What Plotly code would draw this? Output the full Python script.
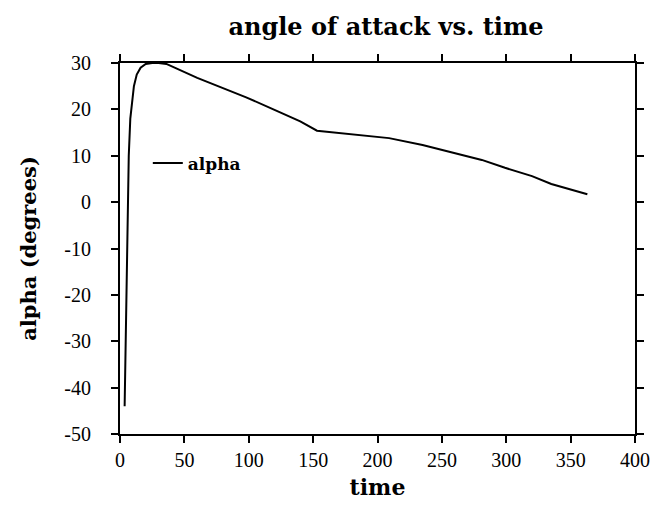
import plotly.graph_objects as go

time = [3.6, 4.4, 5.2, 6.0, 6.8, 8.0, 9.2, 10.8, 13, 16, 20, 25, 30, 36,
        60, 80, 98, 120, 140, 153, 175, 191, 209, 235, 265, 281, 299, 320, 335, 348, 363]
alpha = [-44, -30, -15, -2, 10, 18, 21.5, 25, 27.5, 29, 29.8, 30, 30, 29.8,
         26.8, 24.6, 22.6, 19.9, 17.4, 15.4, 14.8, 14.3, 13.8, 12.3, 10.3, 9.1, 7.4, 5.6, 3.9, 2.8, 1.7]

x_ticks = [0, 50, 100, 150, 200, 250, 300, 350, 400]
y_ticks = [-50, -40, -30, -20, -10, 0, 10, 20, 30]
y_ticktext = [str(v) for v in y_ticks]

serif = "Liberation Serif"
bold_serif = "DejaVu Serif"

fig = go.Figure()
fig.add_trace(go.Scatter(
    x=time, y=alpha, mode="lines", name="alpha",
    line=dict(color="black", width=2),
))

axis_common = dict(
    showline=True, linecolor="black", linewidth=2, mirror="ticks",
    ticks="outside", ticklen=7, tickwidth=2, tickcolor="black",
    showgrid=False, zeroline=False,
    tickfont=dict(family=serif, size=20, color="black"),
)

fig.update_layout(
    width=654, height=502,
    paper_bgcolor="white", plot_bgcolor="white",
    margin=dict(l=112, r=24, t=55, b=76),
    title=dict(text="angle of attack vs. time", x=0.578, xanchor="center", y=0.962, yanchor="middle",
               font=dict(family=bold_serif, size=24, color="black", weight="bold")),
    xaxis=dict(range=[0, 400], tickvals=x_ticks, ticktext=[str(v) for v in x_ticks],
               title=dict(text="time", standoff=10,
                          font=dict(family=bold_serif, size=22, color="black", weight="bold")),
               **axis_common),
    yaxis=dict(range=[-50, 30], tickvals=y_ticks, ticktext=y_ticktext, ticklabelstandoff=16,
               title=dict(text="alpha (degrees)", standoff=22,
                          font=dict(family=bold_serif, size=21, color="black", weight="bold")),
               **axis_common),
    showlegend=True,
    legend=dict(x=0.054, y=0.729, xanchor="left", yanchor="middle", bgcolor="rgba(0,0,0,0)",
                font=dict(family=bold_serif, size=17, color="black", weight="bold")),
)

fig.write_html("out.html")
